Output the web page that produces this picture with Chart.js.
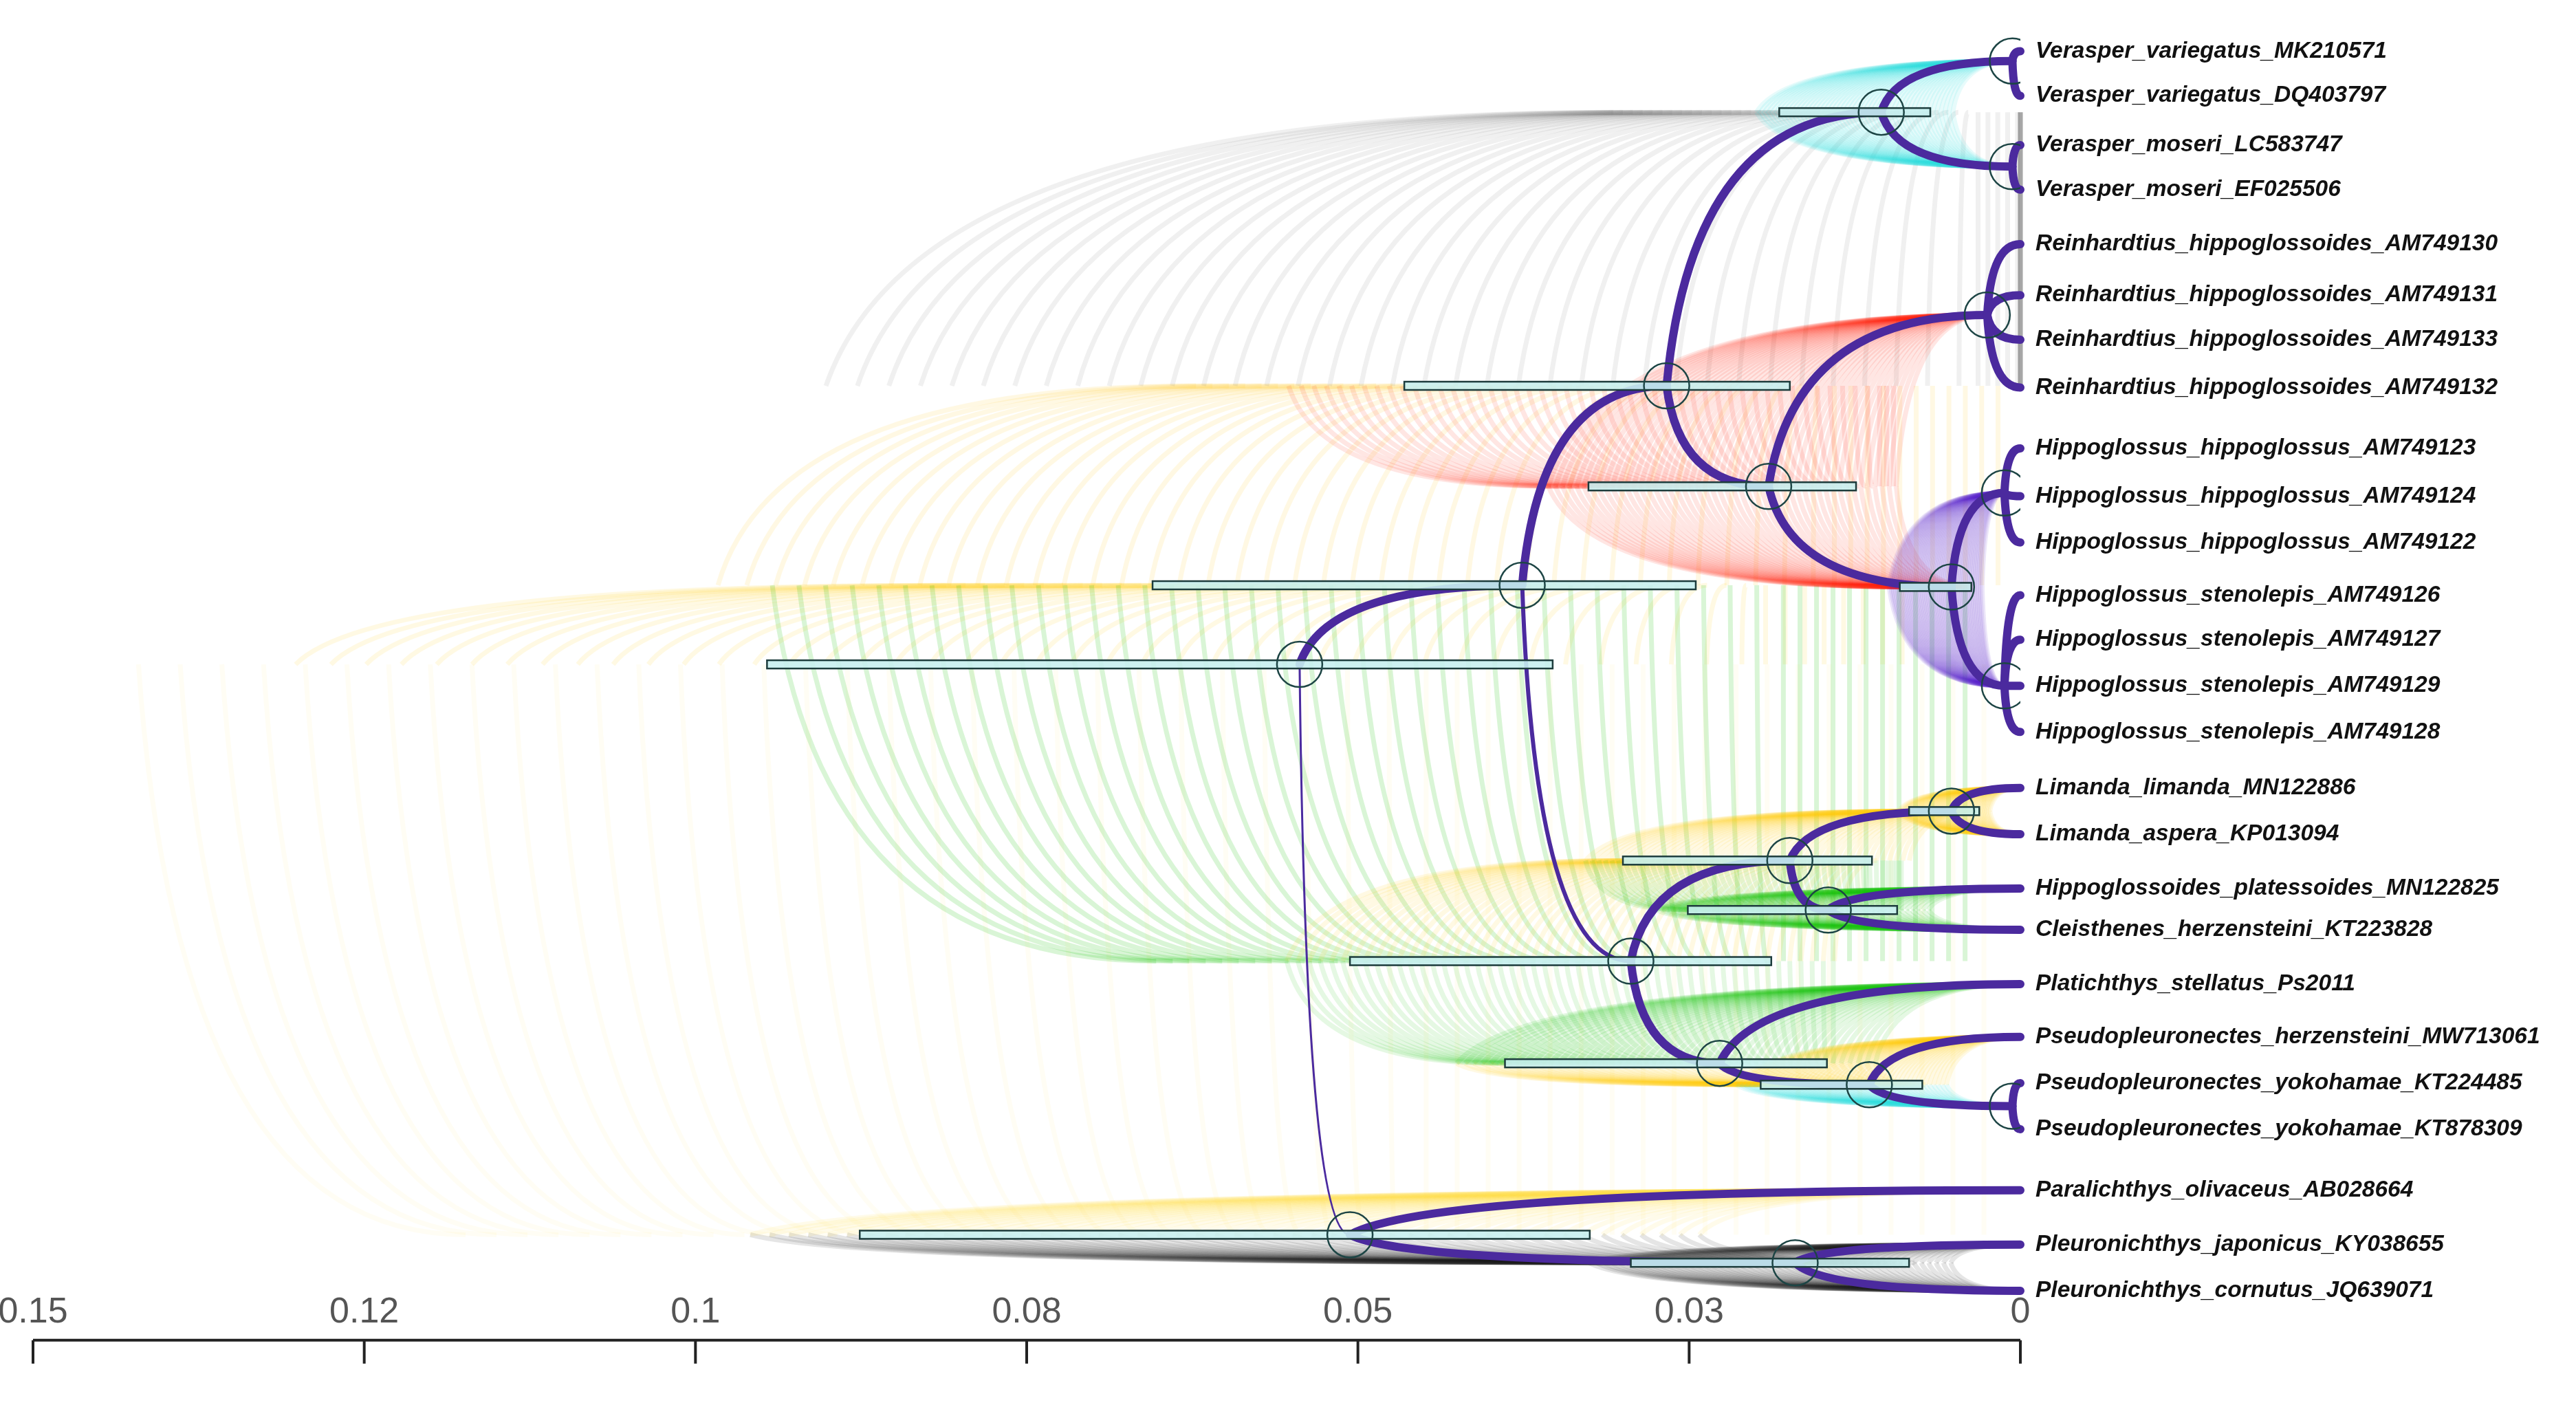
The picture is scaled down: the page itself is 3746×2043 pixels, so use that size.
<!DOCTYPE html>
<html>
<head>
<meta charset="utf-8">
<script src="https://cdn.jsdelivr.net/npm/chart.js@4.4.0/dist/chart.umd.min.js"></script>
<style>
  html, body { margin: 0; padding: 0; background: #fff; }
  #wrap { width: 3746px; height: 2043px; }
</style>
</head>
<body>
<div id="wrap"><canvas id="tree"></canvas></div>
<script>
// internal nodes: id, age (substitutions), row position, 95% range, parent
const nodeIds = ['n1','n2','n3','n4','n5','n6','n7','n8','n9','n10','n11','n12','n13','n14','n15','n16','n17','n18','n19','n20'];
const nodeAge = [0.0544,0.0376,0.0506,0.0267,0.0294,0.0105,0.0006,0.0006,0.0190,0.0025,0.0052,0.0012,0.0012,0.0174,0.0052,0.0145,0.0227,0.0114,0.0006,0.0170];
const nodeRow = [402,354,748,233,582,67,36,100,294,190,355,298,415,521,491,551,644,657,670,765];
const nodeLow = [0.0353,0.0245,0.0325,0.0174,0.0188,0.0068,null,null,0.0124,null,0.0037,null,null,0.0112,0.0031,0.0093,0.0146,0.0074,null,0.0084];
const nodeHigh = [0.0946,0.0655,0.0876,0.0465,0.0506,0.0182,null,null,0.0326,null,0.0091,null,null,0.0300,0.0084,0.0251,0.0389,0.0196,null,0.0294];
const nodeParent = [null,'n1','n1','n2','n2','n4','n6','n6','n4','n9','n9','n11','n11','n5','n14','n14','n5','n17','n18','n3'];

// tips
const tipNames = [
  'Verasper_variegatus_MK210571','Verasper_variegatus_DQ403797','Verasper_moseri_LC583747','Verasper_moseri_EF025506',
  'Reinhardtius_hippoglossoides_AM749130','Reinhardtius_hippoglossoides_AM749131','Reinhardtius_hippoglossoides_AM749133','Reinhardtius_hippoglossoides_AM749132',
  'Hippoglossus_hippoglossus_AM749123','Hippoglossus_hippoglossus_AM749124','Hippoglossus_hippoglossus_AM749122',
  'Hippoglossus_stenolepis_AM749126','Hippoglossus_stenolepis_AM749127','Hippoglossus_stenolepis_AM749129','Hippoglossus_stenolepis_AM749128',
  'Limanda_limanda_MN122886','Limanda_aspera_KP013094','Hippoglossoides_platessoides_MN122825','Cleisthenes_herzensteini_KT223828',
  'Platichthys_stellatus_Ps2011','Pseudopleuronectes_herzensteini_MW713061','Pseudopleuronectes_yokohamae_KT224485','Pseudopleuronectes_yokohamae_KT878309',
  'Paralichthys_olivaceus_AB028664','Pleuronichthys_japonicus_KY038655','Pleuronichthys_cornutus_JQ639071'
];
const tipRow = [30,57,87,114,147,178,205,234,271,300,328,360,387,415,443,477,505,538,563,596,628,656,684,721,754,782];
const tipParent = ['n7','n7','n8','n8','n10','n10','n10','n10','n12','n12','n12','n13','n13','n13','n13','n15','n15','n16','n16','n17','n18','n19','n19','n3','n20','n20'];

const tickValues = [0.15,0.125,0.1,0.075,0.05,0.025,0];
const tickLabels = ['0.15','0.12','0.1','0.08','0.05','0.03','0'];
const axisRow = 812;

// cloud colour of the tree set around each branch (keyed by child)
const cloudColor = {
  n2:'255,200,0', n3:'255,215,60', n4:'255,190,0', n5:'20,190,0', n6:'90,90,90',
  n7:'40,220,220', n8:'40,220,220', n9:'255,30,0', n10:'255,30,0', n11:'255,30,0',
  n12:'80,30,200', n13:'80,30,200', n14:'255,200,0', n15:'255,200,0', n16:'20,190,0',
  n17:'20,190,0', n18:'255,200,0', n19:'40,220,220', n20:'20,20,20', tip:'30,30,30'
};
const cloudAlpha = { n3: 0.06, n5: 0.16, n6: 0.09 };
const cloudSpread = { n2: 2.2, n3: 2.6, n4: 2.6, n5: 2.4, n6: 4, n9: 1.6 };
const thinBranch = { n3: 3, n5: 6 };

const idx = {};
nodeIds.forEach((id, i) => idx[id] = i);

function branches() {
  const list = [];
  nodeIds.forEach((id, i) => {
    if (nodeParent[i]) list.push({ p: idx[nodeParent[i]], age: nodeAge[i], row: nodeRow[i], lo: nodeLow[i], hi: nodeHigh[i], key: id });
  });
  tipNames.forEach((n, i) => {
    list.push({ p: idx[tipParent[i]], age: 0, row: tipRow[i], lo: null, hi: null, key: 'tip', tipIdx: i });
  });
  return list;
}

function curve(ctx, x1, y1, x2, y2) {
  ctx.beginPath();
  ctx.moveTo(x1, y1);
  ctx.quadraticCurveTo(x1 + (x2 - x1) * 0.12, y2, x2, y2);
  ctx.stroke();
}

const treePlugin = {
  id: 'tree',
  beforeDatasetsDraw(chart) {
    const ctx = chart.ctx, xs = chart.scales.x, ys = chart.scales.y;
    const list = branches();
    ctx.save();
    // clouds
    list.forEach(b => {
      const pLo = nodeLow[b.p] ?? nodeAge[b.p], pHi = nodeHigh[b.p] ?? nodeAge[b.p];
      const cLo = b.lo ?? b.age, cHi = b.hi ?? b.age;
      let col = cloudColor[b.key] || cloudColor.tip;
      if (b.key === 'tip') col = cloudColor[nodeIds[b.p]] || col;
      const sp = cloudSpread[b.key] || 1.3;
      const N = 50;
      ctx.strokeStyle = `rgba(${col},${cloudAlpha[b.key] || 0.11})`;
      ctx.lineWidth = 7;
      for (let k = 0; k < N; k++) {
        const f = k / (N - 1);
        const a0 = pLo + (pHi - pLo) * (0.5 + (f - 0.5) * sp);
        const a1 = Math.max(0, cLo + (cHi - cLo) * (0.5 + (f - 0.5) * sp * 0.8));
        curve(ctx, xs.getPixelForValue(Math.max(a0, a1)), ys.getPixelForValue(nodeRow[b.p]),
              xs.getPixelForValue(a1), ys.getPixelForValue(b.row));
      }
    });
    // consensus tree
    ctx.strokeStyle = '#4b2a9e';
    ctx.lineCap = 'round';
    list.forEach(b => {
      ctx.lineWidth = thinBranch[b.key] || 12;
      curve(ctx, xs.getPixelForValue(nodeAge[b.p]), ys.getPixelForValue(nodeRow[b.p]),
            xs.getPixelForValue(b.age), ys.getPixelForValue(b.row));
    });
    // HPD bars
    ctx.lineWidth = 2.5;
    nodeIds.forEach((id, i) => {
      if (nodeLow[i] == null) return;
      const x1 = xs.getPixelForValue(nodeHigh[i]), x2 = xs.getPixelForValue(nodeLow[i]);
      const y = ys.getPixelForValue(nodeRow[i]);
      ctx.fillStyle = 'rgba(200,240,240,0.9)';
      ctx.strokeStyle = '#1d3c3c';
      ctx.fillRect(x1, y - 6, x2 - x1, 12);
      ctx.strokeRect(x1, y - 6, x2 - x1, 12);
    });
    ctx.restore();
  },
  afterDraw(chart) {
    const ctx = chart.ctx, xs = chart.scales.x, ys = chart.scales.y;
    ctx.save();
    // tip labels
    ctx.fillStyle = '#111';
    ctx.font = 'italic bold 33.5px "Liberation Sans", Arial, sans-serif';
    ctx.textBaseline = 'middle';
    tipNames.forEach((n, i) => {
      ctx.fillText(n, xs.getPixelForValue(0) + 22, ys.getPixelForValue(tipRow[i]));
    });
    // axis
    const yAxis = ys.getPixelForValue(axisRow);
    ctx.strokeStyle = '#222';
    ctx.lineWidth = 4;
    ctx.beginPath();
    ctx.moveTo(xs.getPixelForValue(0.15), yAxis);
    ctx.lineTo(xs.getPixelForValue(0), yAxis);
    ctx.stroke();
    ctx.fillStyle = '#555';
    ctx.font = '52px "Liberation Sans", Arial, sans-serif';
    ctx.textAlign = 'center';
    ctx.textBaseline = 'bottom';
    tickValues.forEach((v, i) => {
      const x = xs.getPixelForValue(v);
      ctx.beginPath();
      ctx.moveTo(x, yAxis);
      ctx.lineTo(x, yAxis + 34);
      ctx.stroke();
      ctx.fillText(tickLabels[i], x, yAxis - 14);
    });
    ctx.restore();
  }
};

new Chart(document.getElementById('tree'), {
  type: 'scatter',
  data: {
    datasets: [{
      data: nodeIds.map((id, i) => ({ x: nodeAge[i], y: nodeRow[i] })),
      pointRadius: 33,
      pointHoverRadius: 33,
      backgroundColor: 'rgba(0,0,0,0)',
      borderColor: '#1d4545',
      borderWidth: 2.5
    }]
  },
  options: {
    responsive: true,
    maintainAspectRatio: false,
    animation: false,
    events: [],
    layout: { padding: { left: 48, right: 808, top: 0, bottom: 81 } },
    plugins: { legend: { display: false }, tooltip: { enabled: false } },
    scales: {
      x: { type: 'linear', min: 0, max: 0.15, reverse: true, display: false },
      y: { type: 'linear', min: 13.75, max: 817.5, reverse: true, display: false }
    }
  },
  plugins: [treePlugin]
});
</script>
</body>
</html>
